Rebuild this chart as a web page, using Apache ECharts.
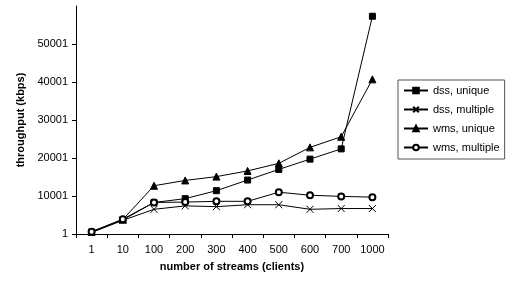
<!DOCTYPE html>
<html>
<head>
<meta charset="utf-8">
<script src="https://cdn.jsdelivr.net/npm/echarts@6/dist/echarts.min.js"></script>
<style>
  html, body { margin: 0; padding: 0; background: #fff; }
  #chart { width: 506px; height: 281px; }
</style>
</head>
<body>
<div id="chart"></div>
<script>
const streams = ['1', '10', '100', '200', '300', '400', '500', '600', '700', '1000']

const dssUnique = [500, 3700, 8300, 9300, 11400, 14200, 17000, 19700, 22400, 57300]
const dssMultiple = [400, 3600, 6500, 7400, 7200, 7700, 7700, 6500, 6700, 6700]
const wmsUnique = [600, 3800, 12700, 14100, 15100, 16600, 18600, 22800, 25600, 40700]
const wmsMultiple = [600, 3900, 8300, 8400, 8600, 8600, 11000, 10200, 9900, 9700]

const yMin = 1
const yMax = 60001
const yStep = 10000

const font = 'Liberation Sans, Arial, sans-serif'

const crossPath = 'path://M0,0L10,10M10,0L0,10'

function makeSeries(name, data, symbol, size) {
  return {
    name: name,
    type: 'line',
    data: data,
    symbol: symbol,
    symbolSize: size,
    showAllSymbol: true,
    lineStyle: { color: '#000', width: 1 },
    itemStyle: { color: '#000', borderColor: '#000', borderWidth: 1 },
    emphasis: { disabled: true },
    animation: false
  }
}

const chart = echarts.init(document.getElementById('chart'))

chart.setOption({
  backgroundColor: '#fff',
  textStyle: { fontFamily: font, color: '#000' },
  grid: { left: 76, right: 118, top: 6, bottom: 47 },
  legend: {
    orient: 'vertical',
    left: 398,
    top: 80,
    padding: [5, 5, 6, 5],
    itemWidth: 24,
    itemHeight: 7,
    itemGap: 8,
    borderColor: '#555',
    borderWidth: 1,
    textStyle: { fontFamily: font, fontSize: 11, color: '#000' },
    data: ['dss, unique', 'dss, multiple', 'wms, unique', 'wms, multiple']
  },
  xAxis: {
    type: 'category',
    data: streams,
    boundaryGap: true,
    name: 'number of streams (clients)',
    nameLocation: 'middle',
    nameGap: 27,
    nameTextStyle: { fontFamily: font, fontSize: 11, fontWeight: 'bold', color: '#000' },
    axisLine: { lineStyle: { color: '#000', width: 1 } },
    axisTick: { show: true, inside: false, length: 4, alignWithLabel: false, lineStyle: { color: '#000' } },
    axisLabel: { fontFamily: font, fontSize: 11, color: '#000', margin: 10, interval: 0 },
    splitLine: { show: false }
  },
  yAxis: {
    type: 'value',
    min: yMin,
    max: yMax,
    interval: yStep,
    name: 'throughput (kbps)',
    nameLocation: 'middle',
    nameGap: 47,
    nameTextStyle: { fontFamily: font, fontSize: 11, fontWeight: 'bold', color: '#000' },
    axisLine: { show: true, lineStyle: { color: '#000', width: 1 } },
    axisTick: { show: true, inside: false, length: 4, lineStyle: { color: '#000' } },
    axisLabel: {
      fontFamily: font, fontSize: 11, color: '#000', margin: 8, showMaxLabel: false,
      formatter: v => String(v)
    },
    splitLine: { show: false }
  },
  series: [
    makeSeries('dss, unique', dssUnique, 'rect', 6),
    makeSeries('dss, multiple', dssMultiple, crossPath, 7),
    makeSeries('wms, unique', wmsUnique, 'triangle', 7),
    makeSeries('wms, multiple', wmsMultiple, 'emptyCircle', 6)
  ]
})
</script>
</body>
</html>
